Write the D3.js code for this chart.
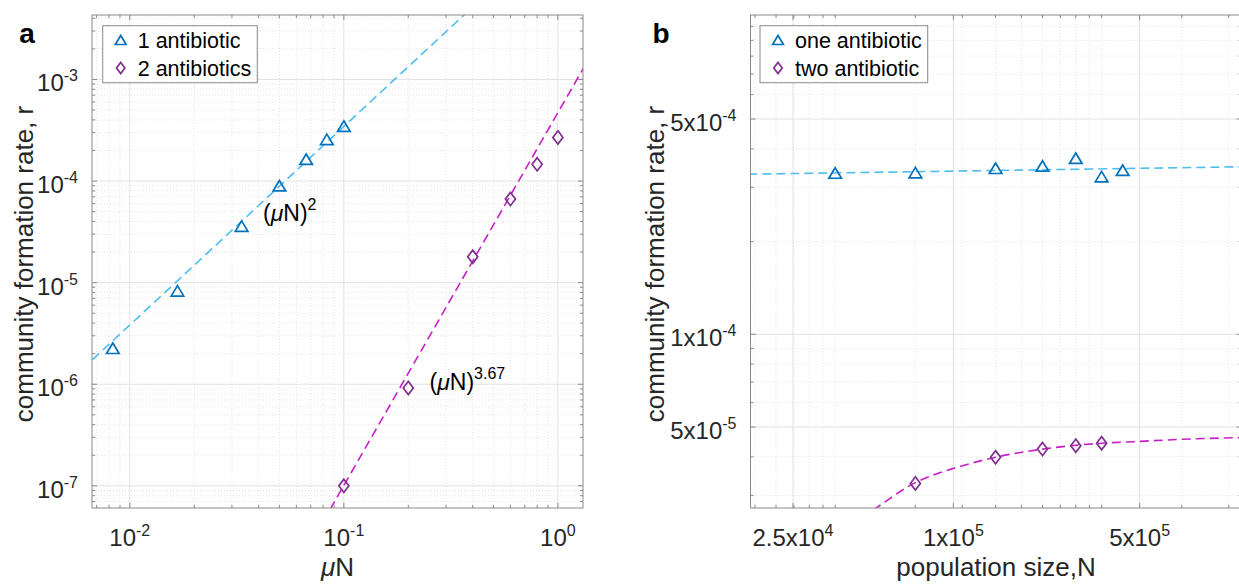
<!DOCTYPE html>
<html lang="en">
<head>
<meta charset="UTF-8">
<title>community formation rate</title>
<script src="https://d3js.org/d3.v7.min.js"></script>
<style>
  body { margin: 0; background: #fff; }
  svg { display: block; font-family: "Liberation Sans", Arial, sans-serif; }
  .grid-major { stroke: #e2e2e2; stroke-width: 1; }
  .grid-minor { stroke: #e4e4e4; stroke-width: 1; stroke-dasharray: 1,2; }
  .frame { fill: none; stroke: #8a8a8a; stroke-width: 1; }
  .tick { stroke: #8a8a8a; stroke-width: 1; }
  .ticklabel { font-size: 24px; fill: #262626; }
  .axlabel { font-size: 26px; fill: #262626; }
  .legend-box { fill: #fff; stroke: #8a8a8a; stroke-width: 1; }
  .legend-text { font-size: 21.5px; fill: #000; }
</style>
</head>
<body>
<svg width="1239" height="584"></svg>
<script>
// ---- panel a data: rate vs muN ----
const muN1 = [0.00833, 0.0167, 0.0333, 0.05, 0.0667, 0.0833, 0.1];
const rate1 = [2.26e-6, 8.3e-6, 3.6e-5, 9.0e-5, 1.64e-4, 2.57e-4, 3.48e-4];
const muN2 = [0.1, 0.2, 0.4, 0.6, 0.8, 1.0];
const rate2 = [1.0e-7, 9.2e-7, 1.8e-5, 6.65e-5, 1.46e-4, 2.69e-4];
// dashed power-law fits (end points)
const fit1MuN = [0.006, 0.5];
const fit1Rate = [1.41e-6, 8.0e-3];
const fit2MuN = [0.08, 1.4];
const fit2Rate = [4.45e-8, 1.62e-3];

const aXTicks = [1e-2, 1e-1, 1];
const aXTickLabels = [["10", "-2"], ["10", "-1"], ["10", "0"]];
const aYTicks = [1e-7, 1e-6, 1e-5, 1e-4, 1e-3];
const aYTickLabels = [["10", "-7"], ["10", "-6"], ["10", "-5"], ["10", "-4"], ["10", "-3"]];

// ---- panel b data: rate vs population size ----
const popN1 = [36000, 72000, 144000, 216000, 288000, 360000, 432000];
const rateOne = [3.34e-4, 3.35e-4, 3.46e-4, 3.52e-4, 3.73e-4, 3.25e-4, 3.41e-4];
const popN2 = [72000, 144000, 216000, 288000, 360000];
const rateTwo = [3.28e-5, 3.99e-5, 4.24e-5, 4.35e-5, 4.43e-5];
const fitOneN = [17000, 1.25e6];
const fitOneRate = [3.31e-4, 3.50e-4];
const fitTwoN = [40900, 51600, 72000, 83900, 100000, 144000, 216000, 360000, 472000, 710000, 1180000, 1300000];
const fitTwoRate = [2.39e-5, 2.74e-5, 3.3e-5, 3.49e-5, 3.67e-5, 3.99e-5, 4.24e-5, 4.43e-5, 4.48e-5, 4.56e-5, 4.62e-5, 4.63e-5];

const bXTicks = [2.5e4, 1e5, 5e5];
const bXTickLabels = [["2.5x10", "4"], ["1x10", "5"], ["5x10", "5"]];
const bXMinor = [18000, 21600, 25200, 28800, 32400, 36000, 72000, 108000, 144000, 180000,
                 216000, 252000, 288000, 324000, 360000, 720000, 1080000];
const bYTicks = [5e-5, 1e-4, 5e-4];
const bYTickLabels = [["5x10", "-5"], ["1x10", "-4"], ["5x10", "-4"]];

const blue = "#0072bd", lightBlue = "#4dbeee", purple = "#7e2f8e", magenta = "#c71fc7";

const svg = d3.select("svg");

const tri = s => `M0,${-s * 0.5}L${s * 0.6},${s * 0.5}L${-s * 0.6},${s * 0.5}Z`;
const dia = s => `M0,${-s * 0.55}L${s * 0.42},0L0,${s * 0.55}L${-s * 0.42},0Z`;

const same = (a, b) => Math.abs(Math.log10(a) - Math.log10(b)) < 1e-6;

function supText(sel, parts) {
  sel.append("tspan").text(parts[0]);
  sel.append("tspan").attr("dy", -10).attr("font-size", 16).text(parts[1]);
}

function panel(p) {
  const { x, y } = p;
  const [x0, x1] = x.range(), [y0, y1] = y.range(); // y0 bottom, y1 top
  const g = svg.append("g");

  const xMinor = p.xMinor.filter(v => !p.xTicks.some(t => same(t, v)));
  const yMinor = p.yMinor.filter(v => !p.yTicks.some(t => same(t, v)));

  // minor grid (dotted) then major grid
  g.selectAll(".gxm").data(xMinor).enter().append("line").attr("class", "grid-minor")
    .attr("x1", d => x(d)).attr("x2", d => x(d)).attr("y1", y0).attr("y2", y1);
  g.selectAll(".gym").data(yMinor).enter().append("line").attr("class", "grid-minor")
    .attr("y1", d => y(d)).attr("y2", d => y(d)).attr("x1", x0).attr("x2", x1);
  g.selectAll(".gx").data(p.xTicks).enter().append("line").attr("class", "grid-major")
    .attr("x1", d => x(d)).attr("x2", d => x(d)).attr("y1", y0).attr("y2", y1);
  g.selectAll(".gy").data(p.yTicks).enter().append("line").attr("class", "grid-major")
    .attr("y1", d => y(d)).attr("y2", d => y(d)).attr("x1", x0).attr("x2", x1);

  // clipped fits + markers
  const clipId = "clip" + p.name;
  svg.append("clipPath").attr("id", clipId).append("rect")
    .attr("x", x0).attr("y", y1).attr("width", x1 - x0).attr("height", y0 - y1);
  const plot = g.append("g").attr("clip-path", `url(#${clipId})`);

  p.fits.forEach(f => {
    const pts = f.xs.map((v, i) => [x(v), y(f.ys[i])]);
    plot.append("path")
      .attr("d", d3.line().curve(d3.curveMonotoneX)(pts))
      .attr("fill", "none").attr("stroke", f.color)
      .attr("stroke-width", 1.6).attr("stroke-dasharray", "9,5");
  });

  p.series.forEach(s => {
    plot.selectAll(null).data(s.xs).enter().append("path")
      .attr("d", s.shape(s.size))
      .attr("transform", (d, i) => `translate(${x(d)},${y(s.ys[i])})`)
      .attr("fill", "none").attr("stroke", s.color).attr("stroke-width", 1.7);
  });

  // frame and inward ticks on all four sides
  g.append("rect").attr("class", "frame")
    .attr("x", x0).attr("y", y1).attr("width", x1 - x0).attr("height", y0 - y1);
  const tk = (vals, len) => {
    vals.forEach(v => {
      const xv = x(v);
      if (xv < x0 || xv > x1) return;
      g.append("line").attr("class", "tick").attr("x1", xv).attr("x2", xv).attr("y1", y0).attr("y2", y0 - len);
      g.append("line").attr("class", "tick").attr("x1", xv).attr("x2", xv).attr("y1", y1).attr("y2", y1 + len);
    });
  };
  const tky = (vals, len) => {
    vals.forEach(v => {
      const yv = y(v);
      if (yv < y1 || yv > y0) return;
      g.append("line").attr("class", "tick").attr("y1", yv).attr("y2", yv).attr("x1", x0).attr("x2", x0 + len);
      g.append("line").attr("class", "tick").attr("y1", yv).attr("y2", yv).attr("x1", x1).attr("x2", x1 - len);
    });
  };
  tk(xMinor, 3); tk(p.xTicks, 5);
  tky(yMinor, 3); tky(p.yTicks, 5);

  // tick labels
  p.xTicks.forEach((v, i) => {
    g.append("text").attr("class", "ticklabel").attr("text-anchor", "middle")
      .attr("x", x(v)).attr("y", y0 + 38).call(supText, p.xTickLabels[i]);
  });
  p.yTicks.forEach((v, i) => {
    g.append("text").attr("class", "ticklabel").attr("text-anchor", "end")
      .attr("x", x0 - 14).attr("y", y(v) + 12).call(supText, p.yTickLabels[i]);
  });

  // axis labels
  const xl = g.append("text").attr("class", "axlabel").attr("text-anchor", "middle")
    .attr("x", (x0 + x1) / 2).attr("y", 576);
  p.xLabel(xl);
  g.append("text").attr("class", "axlabel").attr("text-anchor", "middle")
    .attr("transform", `translate(${p.yLabelX},264) rotate(-90)`)
    .text("community formation rate, r");

  // panel letter
  g.append("text").attr("x", p.letterX).attr("y", 43).attr("text-anchor", "middle")
    .attr("font-size", 28).attr("font-weight", "bold").attr("fill", "#000").text(p.name);

  // legend
  const lg = g.append("g").attr("transform", `translate(${p.legendX},25.7)`);
  const box = lg.append("rect").attr("class", "legend-box").attr("height", 57);
  let maxW = 0;
  p.series.forEach((s, i) => {
    const cy = 14.3 + i * 28;
    lg.append("path").attr("d", s.shape(s.legendSize))
      .attr("transform", `translate(18,${cy})`)
      .attr("fill", "none").attr("stroke", s.color).attr("stroke-width", 1.7);
    const t = lg.append("text").attr("class", "legend-text").attr("x", 35).attr("y", cy + 8).text(s.label);
    maxW = Math.max(maxW, t.node().getComputedTextLength());
  });
  box.attr("width", 35 + maxW + 6);
}

panel({
  name: "a",
  x: d3.scaleLog().domain([0.00666, 1.31]).range([92, 583]),
  y: d3.scaleLog().domain([6.05e-8, 4.31e-3]).range([508, 15]),
  xTicks: aXTicks, xTickLabels: aXTickLabels,
  yTicks: aYTicks, yTickLabels: aYTickLabels,
  xMinor: d3.scaleLog().domain([0.00666, 1.31]).ticks(),
  yMinor: d3.scaleLog().domain([6.05e-8, 4.31e-3]).ticks(),
  fits: [
    { xs: fit1MuN, ys: fit1Rate, color: lightBlue },
    { xs: fit2MuN, ys: fit2Rate, color: magenta }
  ],
  series: [
    { xs: muN1, ys: rate1, color: blue, shape: tri, size: 10.5, legendSize: 9, label: "1 antibiotic" },
    { xs: muN2, ys: rate2, color: purple, shape: dia, size: 12, legendSize: 10, label: "2 antibiotics" }
  ],
  xLabel: t => { t.append("tspan").attr("font-style", "italic").text("\u03bc"); t.append("tspan").text("N"); },
  yLabelX: 33,
  letterX: 27,
  legendX: 102.7
});

panel({
  name: "b",
  x: d3.scaleLog().domain([17320, 1.206e6]).range([750.5, 1241.5]),
  y: d3.scaleLog().domain([2.73e-5, 1.088e-3]).range([508, 15]),
  xTicks: bXTicks, xTickLabels: bXTickLabels,
  yTicks: bYTicks, yTickLabels: bYTickLabels,
  xMinor: bXMinor,
  yMinor: d3.scaleLog().domain([2.73e-5, 1.088e-3]).ticks(),
  fits: [
    { xs: fitOneN, ys: fitOneRate, color: lightBlue },
    { xs: fitTwoN, ys: fitTwoRate, color: magenta }
  ],
  series: [
    { xs: popN1, ys: rateOne, color: blue, shape: tri, size: 10.5, legendSize: 9, label: "one antibiotic" },
    { xs: popN2, ys: rateTwo, color: purple, shape: dia, size: 12, legendSize: 10, label: "two antibiotic" }
  ],
  xLabel: t => t.text("population size,N"),
  yLabelX: 664,
  letterX: 661,
  legendX: 760
});

// annotations in panel a
const ann = [
  { x: 263, y: 221, exp: "2" },
  { x: 429.5, y: 390, exp: "3.67" }
];
ann.forEach(a => {
  const t = svg.append("text").attr("x", a.x).attr("y", a.y)
    .attr("font-size", 23).attr("fill", "#000");
  t.append("tspan").text("(");
  t.append("tspan").attr("font-style", "italic").text("\u03bc");
  t.append("tspan").text("N)");
  t.append("tspan").attr("dy", -11).attr("font-size", 16).text(a.exp);
});
</script>
</body>
</html>
